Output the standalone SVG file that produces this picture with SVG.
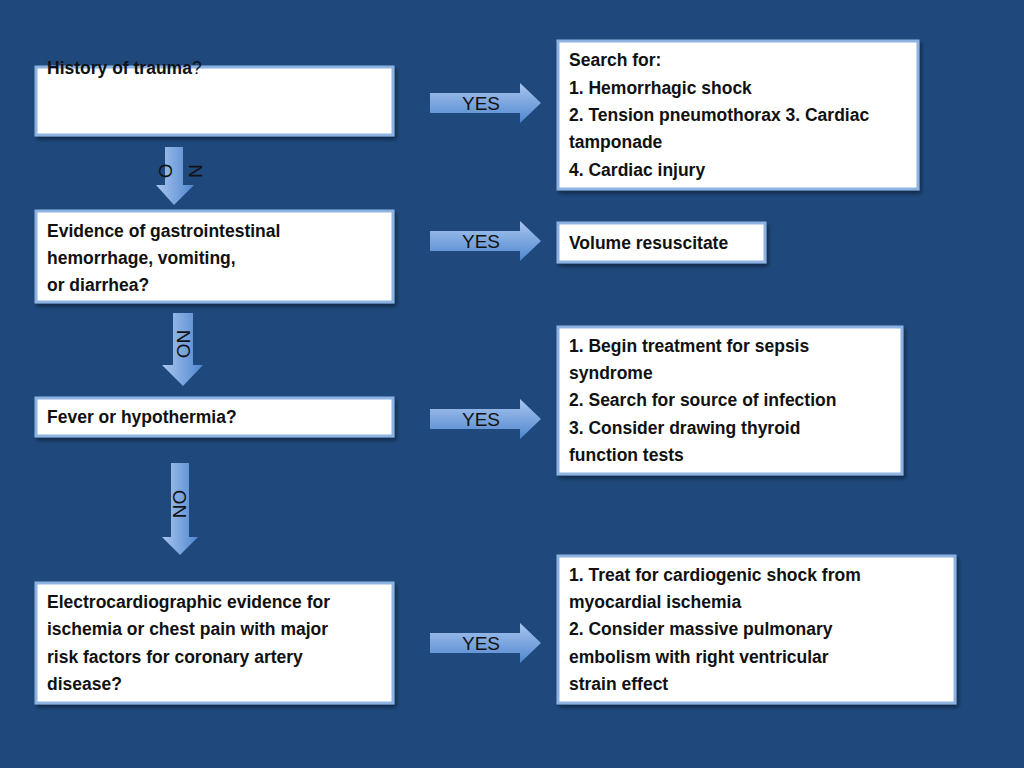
<svg xmlns="http://www.w3.org/2000/svg" width="1024" height="768" viewBox="0 0 1024 768">
<defs>
<linearGradient id="gh" x1="0" y1="0" x2="0" y2="1"><stop offset="0" stop-color="#a9c6ee"/><stop offset="1" stop-color="#4f86cf"/></linearGradient>
<linearGradient id="gv" x1="0" y1="0" x2="1" y2="0"><stop offset="0" stop-color="#a9c6ee"/><stop offset="1" stop-color="#4f86cf"/></linearGradient>
<filter id="sh" x="-10%" y="-10%" width="120%" height="130%"><feDropShadow dx="2" dy="3" stdDeviation="2" flood-color="#000" flood-opacity="0.45"/></filter>
</defs>
<style>
.box{fill:#fff;stroke:#8db3e2;stroke-width:3;filter:url(#sh)}
.t{font-family:"Liberation Sans",Arial,sans-serif;font-weight:bold;font-size:17.5px;fill:#111}
.y{font-family:"Liberation Sans",Arial,sans-serif;font-size:19px;fill:#111;text-anchor:middle}
.ah{fill:url(#gh)}
.av{fill:url(#gv)}
</style>
<rect width="1024" height="768" fill="#1f497d"/>
<g id="connectors">
<path class="ah" d="M430,93 H520 V83 L541,103 L520,123 V113 H430 Z"/><text class="y" x="481" y="110">YES</text>
<path class="ah" d="M430,231 H520 V221 L541,241 L520,261 V251 H430 Z"/><text class="y" x="481" y="248">YES</text>
<path class="ah" d="M430,409 H520 V399 L541,419 L520,439 V429 H430 Z"/><text class="y" x="481" y="426">YES</text>
<path class="ah" d="M430,633 H520 V623 L541,643 L520,663 V653 H430 Z"/><text class="y" x="481" y="650">YES</text>
<path class="av" d="M165,147 H183 V185 H194 L174,205 L156,185 H165 Z"/>
<text class="y" transform="translate(159,171) rotate(90)">O</text>
<text class="y" transform="translate(189,171) rotate(90)">N</text>
<path class="av" d="M173,313 H193 V365 H203 L183,386 L162,365 H173 Z"/>
<text class="y" transform="translate(177,344) rotate(90)">NO</text>
<path class="av" d="M171,463 H189 V537 H198 L180,555 L162,537 H171 Z"/>
<text class="y" transform="translate(186,504) rotate(-90)">NO</text>
</g>
<g id="n1"><rect class="box" x="36" y="67" width="357" height="68"/><text class="t" x="47" y="74">History of trauma<tspan font-weight="normal">?</tspan></text></g>
<g id="n2"><rect class="box" x="558" y="41" width="360" height="148"/>
<text class="t" x="569" y="66">Search for:</text><text class="t" x="569" y="94">1. Hemorrhagic shock</text><text class="t" x="569" y="121">2. Tension pneumothorax 3. Cardiac</text><text class="t" x="569" y="148">tamponade</text><text class="t" x="569" y="176">4. Cardiac injury</text></g>
<g id="n3"><rect class="box" x="36" y="211" width="357" height="91"/>
<text class="t" x="47" y="237">Evidence of gastrointestinal</text><text class="t" x="47" y="264">hemorrhage, vomiting,</text><text class="t" x="47" y="291">or diarrhea?</text></g>
<g id="n4"><rect class="box" x="558" y="223" width="207" height="39"/><text class="t" x="569" y="249">Volume resuscitate</text></g>
<g id="n5"><rect class="box" x="558" y="327" width="344" height="147"/>
<text class="t" x="569" y="352">1. Begin treatment for sepsis</text><text class="t" x="569" y="379">syndrome</text><text class="t" x="569" y="406">2. Search for source of infection</text><text class="t" x="569" y="434">3. Consider drawing thyroid</text><text class="t" x="569" y="461">function tests</text></g>
<g id="n6"><rect class="box" x="36" y="398" width="357" height="38"/><text class="t" x="47" y="423">Fever or hypothermia?</text></g>
<g id="n7"><rect class="box" x="558" y="556" width="397" height="147"/>
<text class="t" x="569" y="581">1. Treat for cardiogenic shock from</text><text class="t" x="569" y="608">myocardial ischemia</text><text class="t" x="569" y="635">2. Consider massive pulmonary</text><text class="t" x="569" y="663">embolism with right ventricular</text><text class="t" x="569" y="690">strain effect</text></g>
<g id="n8"><rect class="box" x="36" y="583" width="357" height="120"/>
<text class="t" x="47" y="608">Electrocardiographic evidence for</text><text class="t" x="47" y="635">ischemia or chest pain with major</text><text class="t" x="47" y="663">risk factors for coronary artery</text><text class="t" x="47" y="690">disease?</text></g>
</svg>
